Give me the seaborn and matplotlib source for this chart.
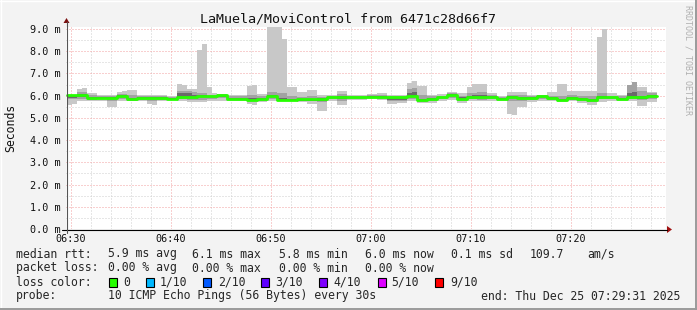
import numpy as np
import pandas as pd
import matplotlib
matplotlib.use("Agg")
import matplotlib.pyplot as plt
import seaborn as sns
from matplotlib.patches import Rectangle, Polygon
from matplotlib.lines import Line2D

# ---------------- data (30 s steps, first step starts 06:29:36) ----------------
step_minutes = 0.5
first_step = -0.4          # minutes relative to 06:30
x_start, x_end = -0.48, 59.52   # 06:29:31 .. 07:29:31

ping_max = [
    6.05, 6.05, 6.28, 6.33, 6.13, 6.13, 6.03, 6.03, 6.05, 6.05, 6.15, 6.20, 6.25, 6.25, 6.05, 6.05, 6.05, 6.05, 6.05, 6.05,
    5.98, 5.98, 6.53, 6.50, 6.30, 6.28, 8.04, 8.33, 6.40, 6.12, 6.08, 6.08, 6.05, 6.05, 6.05, 6.05, 6.45, 6.47, 6.08, 6.08,
    9.20, 9.20, 9.20, 8.57, 6.38, 6.38, 6.16, 6.16, 6.27, 6.27, 6.05, 6.05, 6.03, 6.03, 6.20, 6.20, 6.05, 6.05, 6.05, 6.05,
    6.07, 6.07, 6.12, 6.12, 6.03, 6.03, 6.03, 6.03, 6.58, 6.67, 6.42, 6.42, 6.05, 6.05, 6.08, 6.08, 6.15, 6.15, 6.12, 6.12,
    6.38, 6.52, 6.52, 6.52, 6.12, 6.12, 6.00, 6.00, 6.18, 6.18, 6.15, 6.15, 6.05, 6.05, 6.03, 6.03, 6.15, 6.15, 6.52, 6.52,
    6.20, 6.20, 6.22, 6.22, 6.20, 6.20, 8.64, 9.01, 6.12, 6.12, 6.05, 6.05, 6.50, 6.62, 6.38, 6.38, 6.18, 6.18]

ping_min = [
    5.60, 5.62, 5.78, 5.78, 5.76, 5.76, 5.78, 5.78, 5.50, 5.48, 5.75, 5.75, 5.76, 5.76, 5.78, 5.78, 5.62, 5.60, 5.78, 5.78,
    5.80, 5.80, 5.76, 5.76, 5.70, 5.70, 5.72, 5.72, 5.78, 5.78, 5.78, 5.78, 5.75, 5.75, 5.75, 5.75, 5.62, 5.60, 5.70, 5.70,
    5.78, 5.78, 5.78, 5.78, 5.75, 5.75, 5.70, 5.70, 5.63, 5.62, 5.30, 5.30, 5.78, 5.78, 5.56, 5.56, 5.80, 5.80, 5.80, 5.80,
    5.83, 5.83, 5.80, 5.80, 5.63, 5.63, 5.65, 5.65, 5.74, 5.74, 5.65, 5.65, 5.65, 5.65, 5.78, 5.78, 5.80, 5.80, 5.65, 5.65,
    5.78, 5.78, 5.76, 5.76, 5.76, 5.76, 5.78, 5.78, 5.18, 5.12, 5.48, 5.48, 5.73, 5.73, 5.76, 5.76, 5.75, 5.75, 5.70, 5.70,
    5.78, 5.78, 5.65, 5.65, 5.60, 5.60, 5.72, 5.72, 5.78, 5.78, 5.76, 5.76, 5.76, 5.76, 5.53, 5.53, 5.72, 5.72]

median_rtt = [
    6.02, 6.02, 6.02, 6.02, 5.91, 5.91, 5.91, 5.91, 5.91, 5.91, 5.98, 5.98, 5.85, 5.85, 5.90, 5.90, 5.90, 5.90, 5.90, 5.90,
    5.86, 5.86, 5.94, 5.94, 5.96, 5.96, 6.00, 6.00, 5.97, 5.97, 6.02, 6.02, 5.86, 5.86, 5.86, 5.86, 5.82, 5.82, 5.85, 5.85,
    5.98, 5.98, 5.82, 5.82, 5.82, 5.82, 5.83, 5.83, 5.83, 5.83, 5.84, 5.84, 5.92, 5.92, 5.92, 5.92, 5.92, 5.92, 5.93, 5.93,
    5.94, 5.94, 5.95, 5.95, 5.92, 5.92, 5.92, 5.92, 6.00, 6.00, 5.80, 5.80, 5.87, 5.87, 5.93, 5.93, 6.05, 6.05, 5.87, 5.87,
    5.95, 5.95, 5.95, 5.95, 5.95, 5.95, 5.87, 5.87, 5.95, 5.95, 5.90, 5.90, 5.88, 5.88, 5.98, 5.98, 5.88, 5.88, 5.80, 5.80,
    5.88, 5.88, 5.86, 5.86, 5.80, 5.80, 5.95, 5.95, 5.92, 5.92, 5.86, 5.86, 5.95, 5.95, 5.92, 5.92, 5.98, 5.98]

ping_hi = [
    6.05, 6.05, 6.15, 6.18, 6.02, 6.02, 5.98, 5.98, 6.00, 6.00, 6.08, 6.08, 6.02, 6.02, 5.98, 5.98, 5.98, 5.98, 5.98, 5.98,
    5.94, 5.94, 6.22, 6.22, 6.22, 6.15, 6.10, 6.10, 6.05, 6.05, 6.06, 6.06, 5.98, 5.98, 5.98, 5.98, 6.05, 6.05, 5.98, 5.98,
    6.15, 6.15, 6.10, 6.10, 6.00, 6.00, 5.96, 5.96, 5.98, 5.98, 5.95, 5.95, 5.98, 5.98, 6.08, 6.08, 6.00, 6.00, 6.00, 6.00,
    6.02, 6.02, 6.05, 6.05, 5.98, 5.98, 5.98, 5.98, 6.30, 6.35, 6.05, 6.05, 5.98, 5.98, 6.00, 6.00, 6.10, 6.10, 6.00, 6.00,
    6.10, 6.12, 6.18, 6.18, 6.02, 6.02, 5.95, 5.95, 6.05, 6.05, 6.02, 6.02, 5.98, 5.98, 6.02, 6.02, 6.00, 6.00, 6.00, 6.00,
    6.02, 6.02, 6.00, 6.00, 5.98, 5.98, 6.10, 6.10, 6.00, 6.00, 5.98, 5.98, 6.50, 6.62, 6.20, 6.20, 6.10, 6.10]

ping_lo = [
    5.84, 5.84, 5.85, 5.85, 5.82, 5.82, 5.84, 5.84, 5.78, 5.78, 5.86, 5.86, 5.78, 5.78, 5.82, 5.82, 5.78, 5.78, 5.82, 5.82,
    5.82, 5.82, 5.84, 5.84, 5.82, 5.82, 5.82, 5.82, 5.86, 5.86, 5.88, 5.88, 5.80, 5.80, 5.80, 5.80, 5.74, 5.74, 5.78, 5.78,
    5.85, 5.85, 5.76, 5.76, 5.76, 5.76, 5.76, 5.76, 5.74, 5.74, 5.72, 5.72, 5.84, 5.84, 5.78, 5.78, 5.86, 5.86, 5.86, 5.86,
    5.88, 5.88, 5.86, 5.86, 5.74, 5.74, 5.76, 5.76, 5.85, 5.85, 5.72, 5.72, 5.76, 5.76, 5.84, 5.84, 5.90, 5.90, 5.76, 5.76,
    5.84, 5.84, 5.82, 5.82, 5.84, 5.84, 5.80, 5.80, 5.78, 5.78, 5.76, 5.76, 5.80, 5.80, 5.86, 5.86, 5.80, 5.80, 5.74, 5.74,
    5.80, 5.80, 5.76, 5.76, 5.72, 5.72, 5.84, 5.84, 5.84, 5.84, 5.80, 5.80, 5.84, 5.84, 5.80, 5.80, 5.85, 5.85]

core_lo = [
    5.90, 5.90, 5.92, 5.92, 5.84, 5.84, 5.86, 5.86, 5.84, 5.84, 5.92, 5.92, 5.80, 5.80, 5.85, 5.85, 5.84, 5.84, 5.86, 5.86,
    5.84, 5.84, 5.88, 5.88, 5.90, 5.90, 5.94, 5.94, 5.92, 5.92, 5.96, 5.96, 5.82, 5.82, 5.82, 5.82, 5.76, 5.76, 5.80, 5.80,
    5.92, 5.92, 5.78, 5.78, 5.78, 5.78, 5.78, 5.78, 5.78, 5.78, 5.78, 5.78, 5.88, 5.88, 5.86, 5.86, 5.88, 5.88, 5.88, 5.88,
    5.90, 5.90, 5.90, 5.90, 5.80, 5.80, 5.82, 5.82, 5.94, 5.94, 5.76, 5.76, 5.82, 5.82, 5.88, 5.88, 5.98, 5.98, 5.80, 5.80,
    5.90, 5.90, 5.88, 5.88, 5.90, 5.90, 5.83, 5.83, 5.88, 5.88, 5.84, 5.84, 5.84, 5.84, 5.93, 5.93, 5.84, 5.84, 5.76, 5.76,
    5.84, 5.84, 5.80, 5.80, 5.76, 5.76, 5.90, 5.90, 5.88, 5.88, 5.82, 5.82, 5.90, 5.90, 5.86, 5.86, 5.92, 5.92]

core_hi = [
    6.04, 6.04, 6.06, 6.06, 5.95, 5.95, 5.94, 5.94, 5.94, 5.94, 6.02, 6.02, 5.90, 5.90, 5.93, 5.93, 5.93, 5.93, 5.93, 5.93,
    5.89, 5.89, 6.12, 6.12, 6.10, 6.05, 6.04, 6.04, 6.00, 6.00, 6.04, 6.04, 5.90, 5.90, 5.90, 5.90, 5.88, 5.88, 5.89, 5.89,
    6.04, 6.04, 5.88, 5.88, 5.86, 5.86, 5.87, 5.87, 5.87, 5.87, 5.88, 5.88, 5.95, 5.95, 5.98, 5.98, 5.95, 5.95, 5.96, 5.96,
    5.97, 5.97, 5.99, 5.99, 5.95, 5.95, 5.95, 5.95, 6.12, 6.15, 5.86, 5.86, 5.90, 5.90, 5.96, 5.96, 6.08, 6.08, 5.92, 5.92,
    6.00, 6.02, 6.04, 6.04, 5.98, 5.98, 5.90, 5.90, 5.98, 5.98, 5.94, 5.94, 5.92, 5.92, 6.00, 6.00, 5.92, 5.92, 5.85, 5.85,
    5.92, 5.92, 5.90, 5.90, 5.85, 5.85, 6.00, 6.00, 5.95, 5.95, 5.90, 5.90, 6.10, 6.15, 5.98, 5.98, 6.02, 6.02]

x_tick_pos = [0, 10, 20, 30, 40, 50]
x_tick_labels = ["06:30", "06:40", "06:50", "07:00", "07:10", "07:20"]
y_tick_pos = [0, 1, 2, 3, 4, 5, 6, 7, 8, 9]
y_tick_labels = ["0.0 m", "1.0 m", "2.0 m", "3.0 m", "4.0 m", "5.0 m", "6.0 m", "7.0 m", "8.0 m", "9.0 m"]

title = "LaMuela/MoviControl from 6471c28d66f7"
rtt_stats = ["5.9 ms avg", "6.1 ms max", "5.8 ms min", "6.0 ms now", "0.1 ms sd", "109.7", "am/s"]
loss_stats = ["0.00 % avg", "0.00 % max", "0.00 % min", "0.00 % now"]
loss_labels = ["0", "1/10", "2/10", "3/10", "4/10", "5/10", "9/10"]
loss_colors = ["#26ff00", "#00b8ff", "#0059ff", "#5e00ff", "#7e00ff", "#dd00ff", "#ff0000"]
probe_text = "10 ICMP Echo Pings (56 Bytes) every 30s"
end_text = "end: Thu Dec 25 07:29:31 2025"

# ---------------- figure ----------------
sns.set_theme(style="white")
plt.rcParams['font.family'] = ['DejaVu Sans Mono', 'DejaVu Sans']

W, H = 697, 310
BG = "#f3f3f3"
fig = plt.figure(figsize=(W / 100, H / 100), dpi=100, facecolor=BG)
L, R, T, B = 66, 666, 27, 229
ax = fig.add_axes([L / W, 1 - B / H, (R - L) / W, (B - T) / H])
ax.set_facecolor("white")
ax.set_xlim(x_start, x_end)
ax.set_ylim(0, 9.09)

n = len(median_rtt)
tx = first_step + step_minutes * np.arange(n + 1)

def ext(a):
    a = np.asarray(a, dtype=float)
    return np.append(a, a[-1])

# grid
minor_c = "#cfcfcf"
major_c = "#f2a0a0"
for xm in np.arange(2, 60, 2):
    if xm % 10 != 0:
        ax.axvline(xm, color=minor_c, lw=0.72, ls=(0, (1, 2)), zorder=0)
for xm in x_tick_pos:
    ax.axvline(xm, color=major_c, lw=0.72, ls=(0, (1, 2)), zorder=0.5)
for ym in np.arange(0.5, 9.0, 1.0):
    ax.axhline(ym, color=minor_c, lw=0.72, ls=(0, (1, 2)), zorder=0)
for ym in y_tick_pos[1:]:
    ax.axhline(ym, color=major_c, lw=0.72, ls=(0, (1, 2)), zorder=0.5)

# smoke
ax.fill_between(tx, ext(ping_min), ext(ping_max), step="post", color="#c8c8c8", lw=0, zorder=1)
ax.fill_between(tx, ext(ping_lo), ext(ping_hi), step="post", color="#a2a2a2", lw=0, zorder=2)
ax.fill_between(tx, ext(core_lo), ext(core_hi), step="post", color="#6a6a6a", lw=0, zorder=3)

# median line
df = pd.DataFrame({"t": tx, "median": ext(median_rtt)})
sns.lineplot(data=df, x="t", y="median", ax=ax, color="#26ff00", lw=2.0,
             drawstyle="steps-post", zorder=4, estimator=None, sort=False)

# axes styling
for s in ax.spines.values():
    s.set_visible(False)
ax.grid(False)
ax.set_xlabel("")
ax.set_ylabel("")
ax.set_xticks(x_tick_pos)
ax.set_xticklabels(x_tick_labels)
ax.set_yticks(y_tick_pos)
ax.set_yticklabels(y_tick_labels)
ax.tick_params(axis="both", length=0, labelsize=7.3, colors="#111111")
ax.tick_params(axis="x", pad=3.4)
ax.tick_params(axis="y", pad=3.6)

def px(x, y):
    return (x / W, 1 - y / H)

# axis lines and arrows
fig.add_artist(Line2D([62 / W, 667 / W], [1 - 229.5 / H] * 2, color="black", lw=0.8))
fig.add_artist(Line2D([66.5 / W] * 2, [1 - 233 / H, 1 - 22 / H], color="#555555", lw=0.8))
fig.add_artist(Polygon([px(667, 226), px(667, 233), px(672, 229.5)], closed=True,
                       color="#a01010", lw=0))
fig.add_artist(Polygon([px(63.5, 23), px(69.5, 23), px(66.5, 18)], closed=True,
                       color="#7a1010", lw=0))

# frame
fig.add_artist(Line2D([0.5 / W, 0.5 / W], [0, 1], color="white", lw=1))
fig.add_artist(Line2D([0, 1], [1 - 0.5 / H] * 2, color="white", lw=1))
fig.add_artist(Line2D([1 - 1.5 / W] * 2, [0, 1], color="#9a9a9a", lw=1.4))
fig.add_artist(Line2D([0, 1], [1.5 / H] * 2, color="#9a9a9a", lw=1.4))

# texts
fs = 8.3
fig.text(*px(348, 19), title, ha="center", va="center", fontsize=9.6, color="#111111")
fig.text(*px(11, 128), "Seconds", ha="center", va="center", rotation=90, fontsize=fs, color="#111111")
fig.text(*px(688, 60), "RRDTOOL / TOBI OETIKER", ha="center", va="center", rotation=270,
         fontsize=6.0, color="#b0b0b0")

row_y = [254, 268, 282, 296]
fig.text(*px(16, row_y[0]), "median rtt:", ha="left", va="center", fontsize=fs)
for xp, s in zip([107.5, 192.4, 279, 365, 451, 530, 587], rtt_stats):
    fig.text(*px(xp, row_y[0]), s, ha="left", va="center", fontsize=fs)
fig.text(*px(16, row_y[1]), "packet loss:", ha="left", va="center", fontsize=fs)
for xp, s in zip([107.5, 192.4, 279, 365], loss_stats):
    fig.text(*px(xp, row_y[1]), s, ha="left", va="center", fontsize=fs)
fig.text(*px(16, row_y[2]), "loss color:", ha="left", va="center", fontsize=fs)
box_x = [108.5, 145.5, 203, 260.5, 318.5, 377.5, 435]
lab_x = [123.6, 160, 217.8, 275.6, 333.3, 391.1, 449.8]
for bx, lx, lab, col in zip(box_x, lab_x, loss_labels, loss_colors):
    x0, y0 = px(bx, row_y[2] + 4.5)
    fig.add_artist(Rectangle((x0, y0), 8 / W, 9 / H, facecolor=col, edgecolor="black", lw=0.8))
    fig.text(*px(lx, row_y[2]), lab, ha="left", va="center", fontsize=fs)
fig.text(*px(16, row_y[3]), "probe:", ha="left", va="center", fontsize=fs)
fig.text(*px(107.5, row_y[3]), probe_text, ha="left", va="center", fontsize=fs)
fig.text(*px(680, row_y[3]), end_text, ha="right", va="center", fontsize=fs)

fig.savefig("out.png", dpi=100, facecolor=BG)
